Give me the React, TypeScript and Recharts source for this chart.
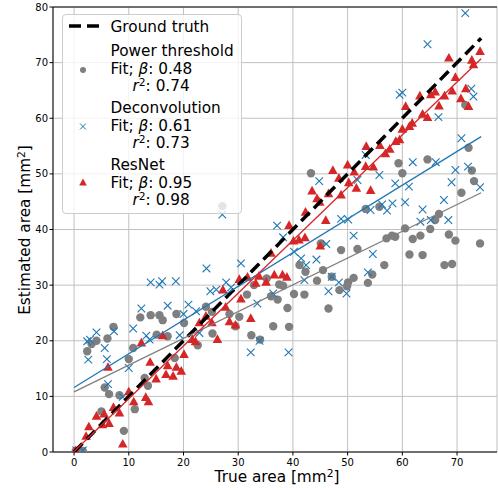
import { CartesianGrid, ReferenceLine, Scatter, ScatterChart, XAxis, YAxis } from "recharts";

if (typeof document !== "undefined") document.body.style.margin = "0";

type Pt = [number, number];

const FONT = "'DejaVu Sans', sans-serif";
const GRAY = "#7f7f7f";
const BLUE = "#1f77b4";
const RED = "#d62728";

const xTicks = [0, 10, 20, 30, 40, 50, 60, 70];
const yTicks = [0, 10, 20, 30, 40, 50, 60, 70, 80];

// Power threshold estimates (true area, estimated area)
const powerThreshold: Pt[] = [
  [0.3, 0.2], [1.6, 0.2], [2.4, 18.1], [3.2, 19.4], [4.1, 20.0], [5.0, 7.3], [5.6, 11.6], [6.1, 20.4],
  [6.4, 10.4], [7.2, 22.5], [8.3, 10.2], [9.1, 3.8], [10.0, 16.7], [10.8, 18.7], [11.1, 7.7], [12.1, 24.2],
  [12.9, 13.3], [13.5, 11.9], [14.0, 24.6], [15.1, 21.1], [15.6, 24.6], [16.2, 23.7], [17.1, 20.8], [18.4, 16.9],
  [18.7, 24.8], [20.1, 23.2], [22.6, 19.2], [24.1, 26.1], [25.2, 25.2], [25.3, 21.3], [27.1, 44.2], [28.4, 24.8],
  [29.5, 22.6], [30.2, 24.3], [31.6, 28.3], [32.4, 21.0], [32.9, 30.0], [34.0, 20.2], [35.2, 31.2], [36.0, 28.0],
  [36.4, 22.6], [37.2, 27.4], [37.5, 30.1], [38.2, 29.9], [39.0, 25.9], [39.3, 22.5], [40.2, 28.4], [41.2, 33.6],
  [42.1, 28.3], [42.3, 32.4], [43.3, 50.1], [44.4, 30.8], [45.1, 37.5], [45.5, 32.7], [46.5, 25.8], [47.1, 31.5],
  [48.5, 29.1], [48.8, 36.3], [49.9, 29.8], [50.1, 30.5], [51.1, 31.3], [51.8, 36.5], [53.3, 43.7], [53.7, 30.4],
  [54.5, 31.9], [55.8, 44.1], [56.7, 33.6], [57.1, 38.4], [58.1, 38.9], [58.7, 38.7], [59.3, 51.9], [60.0, 50.1],
  [60.5, 40.2], [61.3, 35.5], [61.9, 38.3], [63.3, 38.9], [63.7, 35.4], [64.6, 52.6], [65.1, 40.1], [66.0, 41.7],
  [66.7, 42.8], [67.7, 33.6], [68.5, 39.1], [69.1, 33.8], [69.7, 38.0], [70.8, 46.6], [71.5, 62.4], [72.1, 54.7],
  [72.7, 50.6], [73.1, 48.7], [74.2, 37.5]
];

const deconvolution: Pt[] = [
  [0.4, 0.3], [1.6, 0.3], [2.4, 19.9], [2.6, 16.6], [2.9, 20.2], [4.1, 21.5], [5.6, 18.7], [6.0, 16.7],
  [6.2, 12.2], [7.3, 21.7], [8.9, 9.9], [10.0, 15.1], [10.8, 22.2], [12.3, 25.8], [13.2, 20.9], [13.8, 20.2],
  [14.0, 30.5], [15.6, 30.1], [16.1, 30.7], [17.1, 26.3], [18.6, 30.7], [19.3, 21.0], [20.0, 24.8], [20.9, 26.5],
  [22.3, 25.3], [22.9, 21.4], [24.2, 33.0], [24.9, 28.9], [26.0, 29.2], [27.1, 42.7], [27.8, 30.5], [28.7, 29.6],
  [30.5, 33.9], [32.3, 17.9], [33.5, 26.7], [33.9, 20.0], [36.4, 28.5], [37.1, 40.7], [38.2, 38.6], [39.2, 17.9],
  [40.2, 36.0], [41.5, 34.8], [42.1, 30.9], [42.4, 33.6], [44.3, 34.6], [44.8, 48.7], [46.1, 37.4], [46.5, 28.9],
  [47.1, 31.5], [48.4, 30.5], [48.8, 41.9], [50.1, 41.8], [49.8, 28.5], [51.1, 38.9], [51.8, 48.9], [53.3, 53.4],
  [53.7, 32.3], [54.2, 43.5], [54.6, 35.6], [55.8, 49.8], [56.3, 44.5], [57.2, 43.4], [58.2, 44.7], [58.7, 48.3],
  [59.5, 64.2], [60.0, 64.6], [60.5, 44.9], [61.2, 47.7], [61.9, 52.1], [63.3, 41.4], [63.7, 43.6], [64.6, 73.3],
  [65.2, 41.7], [66.1, 52.1], [66.6, 60.2], [67.6, 45.3], [68.4, 41.7], [69.0, 48.5], [69.7, 50.7], [70.8, 56.4],
  [71.5, 78.9], [72.0, 51.3], [72.6, 65.3], [73.0, 63.9], [74.2, 47.6]
];

const resNet: Pt[] = [
  [0.3, 0.2], [2.2, 2.8], [2.7, 4.5], [4.1, 6.4], [5.2, 4.9], [5.5, 6.8], [6.2, 15.2], [6.4, 5.1],
  [7.2, 8.0], [8.3, 7.0], [8.9, 1.4], [10.0, 10.8], [10.9, 9.0], [12.3, 19.6], [13.1, 9.8], [13.6, 9.0],
  [13.9, 16.1], [15.0, 13.1], [16.2, 20.9], [16.8, 13.9], [17.1, 15.5], [18.1, 13.6], [18.7, 15.2], [19.6, 14.5],
  [20.1, 17.5], [21.6, 20.2], [22.2, 19.8], [22.9, 23.2], [24.1, 24.4], [25.2, 23.2], [26.2, 20.2], [27.2, 29.1],
  [27.7, 26.0], [28.4, 23.4], [29.5, 22.8], [30.2, 31.0], [30.5, 27.5], [31.7, 31.4], [32.3, 24.0], [33.2, 30.3],
  [33.8, 31.6], [35.1, 30.5], [36.0, 35.7], [36.6, 31.8], [38.1, 31.8], [38.9, 31.4], [39.3, 40.7], [40.1, 37.9],
  [41.1, 38.1], [42.2, 38.5], [42.3, 43.1], [43.5, 46.9], [44.4, 45.5], [44.9, 44.9], [45.0, 37.0], [46.0, 41.6],
  [46.5, 46.4], [47.3, 50.6], [48.4, 49.2], [48.8, 46.2], [50.0, 51.6], [50.2, 48.4], [51.2, 50.3], [51.6, 47.4],
  [53.3, 51.3], [53.4, 54.9], [54.2, 47.0], [54.7, 51.2], [55.9, 55.1], [56.9, 53.6], [57.7, 54.4], [58.8, 55.8],
  [59.5, 56.1], [60.0, 58.0], [60.6, 62.1], [61.3, 58.5], [61.8, 59.1], [63.2, 64.0], [63.7, 60.7], [64.6, 60.1],
  [65.2, 64.2], [66.0, 64.7], [66.7, 62.2], [67.7, 64.0], [68.5, 70.8], [69.1, 64.9], [69.7, 67.3], [70.7, 63.5],
  [71.6, 65.3], [72.1, 62.1], [72.7, 70.4], [73.0, 69.6], [74.2, 72.0]
];

// line end points (x from 0 to largest true area)
const groundTruth: Pt[] = [[0, 0], [74.4, 74.4]];
const powerFit: Pt[] = [[0, 10.8], [74.4, 46.6]];
const deconvFit: Pt[] = [[0, 11.6], [74.4, 56.7]];
const resNetFit: Pt[] = [[0, 0.1], [74.4, 70.7]];

const toRows = (pts: Pt[]) => pts.map(([x, y]) => ({ x, y }));

const Dot = (props: any) => <circle cx={props.cx} cy={props.cy} r={4.2} fill={GRAY} />;

const Cross = (props: any) => {
  const { cx, cy } = props;
  const s = 3.8;
  return (
    <g stroke={BLUE} strokeWidth={1.1}>
      <line x1={cx - s} y1={cy - s} x2={cx + s} y2={cy + s} />
      <line x1={cx - s} y1={cy + s} x2={cx + s} y2={cy - s} />
    </g>
  );
};

const Tri = (props: any) => {
  const { cx, cy } = props;
  return <polygon points={`${cx},${cy - 5.3} ${cx - 4.8},${cy + 3.4} ${cx + 4.8},${cy + 3.4}`} fill={RED} />;
};

const NoShape = () => <g />;

const sup = { fontSize: "0.7em", lineHeight: 0, verticalAlign: "0.45em" } as const;

const legendRows: { text: React.ReactNode; y: number; indent?: number }[] = [
  { text: "Ground truth", y: 26 },
  { text: "Power threshold", y: 50 },
  { text: <>Fit; <i>β</i>: 0.48</>, y: 67.5 },
  { text: <><i>r</i><span style={sup}>2</span>: 0.74</>, y: 85, indent: 22 },
  { text: "Deconvolution", y: 107 },
  { text: <>Fit; <i>β</i>: 0.61</>, y: 124.5 },
  { text: <><i>r</i><span style={sup}>2</span>: 0.73</>, y: 142, indent: 22 },
  { text: "ResNet", y: 164 },
  { text: <>Fit; <i>β</i>: 0.95</>, y: 181.5 },
  { text: <><i>r</i><span style={sup}>2</span>: 0.98</>, y: 199, indent: 22 }
];

function LegendBox() {
  return (
    <div
      style={{
        position: "absolute",
        left: 61.5,
        top: 14,
        width: 180,
        height: 200,
        background: "rgba(255,255,255,0.8)",
        border: "1px solid #cccccc",
        borderRadius: 4,
        boxSizing: "border-box"
      }}
    >
      <svg width={180} height={200} style={{ position: "absolute", left: -1, top: -1 }}>
        <line x1={7} y1={12} x2={37} y2={12} stroke="#000" strokeWidth={3.5} strokeDasharray="12 6" />
        <circle cx={21} cy={56} r={3} fill={GRAY} />
        <g stroke={BLUE} strokeWidth={1}>
          <line x1={18} y1={109.5} x2={24} y2={115.5} />
          <line x1={18} y1={115.5} x2={24} y2={109.5} />
        </g>
        <polygon points="21,164.5 17.2,171.5 24.8,171.5" fill={RED} />
      </svg>
      {legendRows.map((row, i) => (
        <div
          key={i}
          style={{
            position: "absolute",
            left: 48 + (row.indent ?? 0),
            top: row.y - 14 - 8,
            height: 16,
            lineHeight: "16px",
            fontSize: 15.3,
            whiteSpace: "nowrap"
          }}
        >
          {row.text}
        </div>
      ))}
    </div>
  );
}

export default function App() {
  const tick = { fill: "#000", fontSize: 10, fontFamily: FONT };
  return (
    <div style={{ position: "relative", width: 498, height: 490, fontFamily: FONT, color: "#000", background: "#fff" }}>
      <ScatterChart width={498} height={490} margin={{ top: 7, right: 1, left: 0, bottom: 0 }}>
        <CartesianGrid stroke="#c0c0c0" strokeWidth={1} />
        <XAxis
          type="number"
          dataKey="x"
          domain={[-3.85, 77.3]}
          ticks={xTicks}
          interval={0}
          allowDataOverflow
          height={38}
          stroke="#000"
          tick={tick}
          tickSize={3.5}
          tickMargin={3}
        />
        <YAxis
          type="number"
          dataKey="y"
          domain={[0, 80]}
          ticks={yTicks}
          interval={0}
          allowDataOverflow
          width={53}
          stroke="#000"
          tick={tick}
          tickSize={3.5}
          tickMargin={1.5}
        />
        <Scatter data={toRows(powerThreshold)} shape={Dot} isAnimationActive={false} />
        <Scatter data={toRows(deconvolution)} shape={Cross} isAnimationActive={false} />
        <Scatter data={toRows(resNet)} shape={Tri} isAnimationActive={false} />
        <Scatter
          data={toRows(groundTruth)}
          shape={NoShape}
          line={{ stroke: "#000", strokeWidth: 3.5, strokeDasharray: "12 6" }}
          isAnimationActive={false}
        />
        <Scatter data={toRows(powerFit)} shape={NoShape} line={{ stroke: GRAY, strokeWidth: 1.3 }} isAnimationActive={false} />
        <Scatter data={toRows(deconvFit)} shape={NoShape} line={{ stroke: BLUE, strokeWidth: 1.3 }} isAnimationActive={false} />
        <Scatter data={toRows(resNetFit)} shape={NoShape} line={{ stroke: RED, strokeWidth: 1.3 }} isAnimationActive={false} />
        <ReferenceLine y={80} stroke="#000" strokeWidth={1} />
      </ScatterChart>
      <LegendBox />
      <div
        style={{ position: "absolute", left: 277, top: 468, transform: "translateX(-50%)", fontSize: 15.3, whiteSpace: "nowrap" }}
      >
        True area [mm<span style={sup}>2</span>]
      </div>
      <div
        style={{
          position: "absolute",
          left: 25,
          top: 229.5,
          transform: "translate(-50%, -50%) rotate(-90deg)",
          fontSize: 15.3,
          whiteSpace: "nowrap"
        }}
      >
        Estimated area [mm<span style={sup}>2</span>]
      </div>
    </div>
  );
}
